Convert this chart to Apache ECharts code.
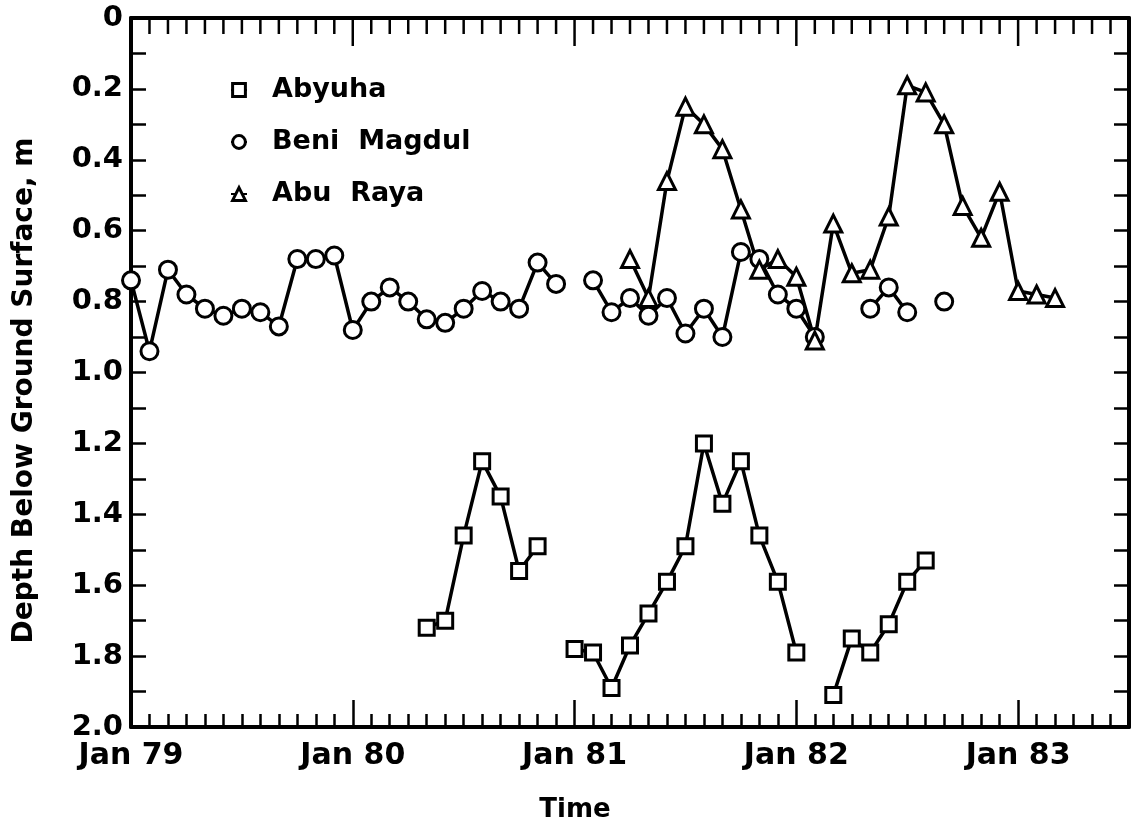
<!DOCTYPE html>
<html>
<head>
<meta charset="utf-8">
<title>Depth below ground surface</title>
<script src="https://cdn.jsdelivr.net/npm/echarts@6/dist/echarts.min.js"></script>
<style>
  html, body { margin: 0; padding: 0; background: #fff; }
  #chart { width: 1132px; height: 830px; }
</style>
</head>
<body>
<div id="chart"></div>
<script>
// time is counted in months since Jan 1979
const yearLabels = ['Jan 79', 'Jan 80', 'Jan 81', 'Jan 82', 'Jan 83']
const depthLabels = ['0', '0.2', '0.4', '0.6', '0.8', '1.0', '1.2', '1.4', '1.6', '1.8', '2.0']
const frameMonths = Array.from({ length: 55 }, (_, i) => i)

// null = no reading, line is broken there
const abyuhaMonths = [16, 17, 18, 19, 20, 21, 22, 23, 24, 25, 26, 27, 28, 29, 30, 31, 32, 33, 34, 35, 36, 37, 38, 39, 40, 41, 42, 43]
const abyuhaDepth = [1.72, 1.70, 1.46, 1.25, 1.35, 1.56, 1.49, null, 1.78, 1.79, 1.89, 1.77, 1.68, 1.59, 1.49, 1.20, 1.37, 1.25, 1.46, 1.59, 1.79, null, 1.91, 1.75, 1.79, 1.71, 1.59, 1.53]

const beniMonths = [0, 1, 2, 3, 4, 5, 6, 7, 8, 9, 10, 11, 12, 13, 14, 15, 16, 17, 18, 19, 20, 21, 22, 23, 24, 25, 26, 27, 28, 29, 30, 31, 32, 33, 34, 35, 36, 37, 38, 39, 40, 41, 42, 43, 44]
const beniDepth = [0.74, 0.94, 0.71, 0.78, 0.82, 0.84, 0.82, 0.83, 0.87, 0.68, 0.68, 0.67, 0.88, 0.80, 0.76, 0.80, 0.85, 0.86, 0.82, 0.77, 0.80, 0.82, 0.69, 0.75, null, 0.74, 0.83, 0.79, 0.84, 0.79, 0.89, 0.82, 0.90, 0.66, 0.68, 0.78, 0.82, 0.90, null, null, 0.82, 0.76, 0.83, null, 0.80]

const abuRayaMonths = [27, 28, 29, 30, 31, 32, 33, 34, 35, 36, 37, 38, 39, 40, 41, 42, 43, 44, 45, 46, 47, 48, 49, 50]
const abuRayaDepth = [0.68, 0.79, 0.46, 0.25, 0.30, 0.37, 0.54, 0.71, 0.68, 0.73, 0.91, 0.58, 0.72, 0.71, 0.56, 0.19, 0.21, 0.30, 0.53, 0.62, 0.49, 0.77, 0.78, 0.79]

const FONT = 'DejaVu Sans'

const toPairs = (xs, ys) => xs.map((x, i) => [x, ys[i] === null ? '-' : ys[i]])

const monthAxis = (position, showTicks) => ({
  type: 'value',
  position: position,
  min: 0,
  max: 54,
  interval: 1,
  axisLine: { show: true, onZero: false, lineStyle: { color: '#000', width: 4 } },
  axisTick: { show: showTicks, inside: true, length: 13, lineStyle: { color: '#000', width: 2.5 } },
  axisLabel: { show: false },
  splitLine: { show: false }
})

const xYears = {
  type: 'value',
  position: 'bottom',
  min: 0,
  max: 54,
  interval: 12,
  axisLine: { show: false, onZero: false },
  axisTick: { show: true, inside: true, length: 27, lineStyle: { color: '#000', width: 2.5 } },
  axisLabel: {
    margin: 14,
    color: '#000',
    fontFamily: FONT,
    fontWeight: 'bold',
    fontSize: 30,
    formatter: (v) => yearLabels[Math.round(v / 12)] || ''
  },
  splitLine: { show: false },
  name: 'Time',
  nameLocation: 'middle',
  nameGap: 70,
  nameTextStyle: { color: '#000', fontFamily: FONT, fontWeight: 'bold', fontSize: 26, padding: [0, 110, 0, 0] }
}

const depthAxis = (position, withLabels) => ({
  type: 'value',
  position: position,
  inverse: true,
  min: 0,
  max: 2,
  interval: 0.1,
  axisLine: { show: true, onZero: false, lineStyle: { color: '#000', width: 4 } },
  axisTick: { show: true, inside: true, length: 15, lineStyle: { color: '#000', width: 2.5 } },
  axisLabel: {
    show: withLabels,
    margin: 8,
    color: '#000',
    fontFamily: FONT,
    fontWeight: 'bold',
    fontSize: 29,
    formatter: (v) => {
      const k = Math.round(v * 10)
      return k % 2 === 0 ? depthLabels[k / 2] : ''
    }
  },
  splitLine: { show: false }
})

const markerStyle = { color: '#fff', borderColor: '#000', borderWidth: 3 }

const yLeft = depthAxis('left', true)
yLeft.name = 'Depth Below Ground Surface, m'
yLeft.nameLocation = 'middle'
yLeft.nameGap = 92
yLeft.nameRotate = 90
yLeft.nameTextStyle = { color: '#000', fontFamily: FONT, fontWeight: 'bold', fontSize: 28, padding: [0, 36, 0, 0] }

const chart = echarts.init(document.getElementById('chart'))

chart.setOption({
  animation: false,
  backgroundColor: '#fff',
  grid: { left: 131, right: 3, top: 18, bottom: 103 },
  legend: {
    orient: 'vertical',
    left: 225,
    top: 70,
    itemWidth: 16,
    itemHeight: 16,
    itemGap: 22,
    selectedMode: false,
    itemStyle: markerStyle,
    textStyle: { color: '#000', fontFamily: FONT, fontWeight: 'bold', fontSize: 27, lineHeight: 30, padding: [0, 0, 0, 20] },
    data: ['Abyuha', 'Beni  Magdul', 'Abu  Raya']
  },
  xAxis: [
    monthAxis('bottom', true),
    xYears,
    monthAxis('top', false)
  ],
  yAxis: [
    yLeft,
    depthAxis('right', false)
  ],
  series: [{
    name: 'Abyuha',
    type: 'line',
    legendIcon: 'rect',
    symbol: 'rect',
    symbolSize: 15,
    itemStyle: markerStyle,
    lineStyle: { color: '#000', width: 3.5 },
    emphasis: { disabled: true },
    data: toPairs(abyuhaMonths, abyuhaDepth)
  }, {
    name: 'Beni  Magdul',
    type: 'line',
    legendIcon: 'circle',
    symbol: 'circle',
    symbolSize: 17,
    itemStyle: markerStyle,
    lineStyle: { color: '#000', width: 3.5 },
    emphasis: { disabled: true },
    data: toPairs(beniMonths, beniDepth)
  }, {
    name: 'Abu  Raya',
    type: 'line',
    legendIcon: 'triangle',
    symbol: 'triangle',
    symbolSize: 17,
    itemStyle: markerStyle,
    lineStyle: { color: '#000', width: 3.5 },
    emphasis: { disabled: true },
    data: toPairs(abuRayaMonths, abuRayaDepth)
  }]
})

// month ticks hanging from the top frame, placed through the axis scales
const topTicks = frameMonths.map((m) => {
  const p = chart.convertToPixel({ xAxisIndex: 0, yAxisIndex: 0 }, [m, 0])
  const len = m % 12 === 0 ? 28 : 16
  return {
    type: 'line',
    z: 100,
    silent: true,
    shape: { x1: p[0], y1: p[1], x2: p[0], y2: p[1] + len },
    style: { stroke: '#000', lineWidth: 2.5 }
  }
})
chart.setOption({ graphic: topTicks })

window.addEventListener('resize', () => {
  chart.resize()
})
</script>
</body>
</html>
